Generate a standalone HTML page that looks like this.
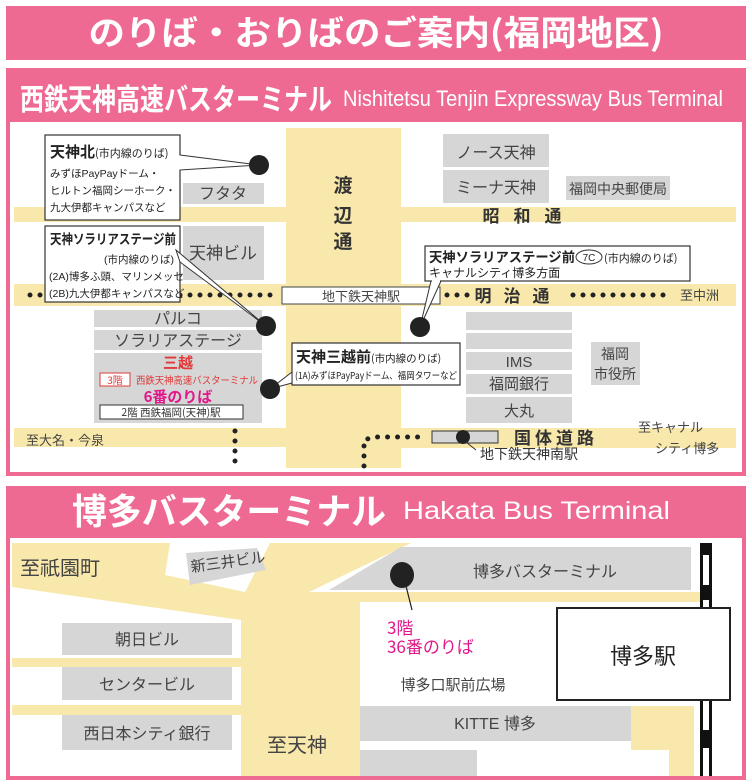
<!DOCTYPE html>
<html><head><meta charset="utf-8"><style>
html,body{margin:0;padding:0;background:#fff;width:752px;height:784px;overflow:hidden}
svg{display:block}
text{font-family:"Liberation Sans","Noto Sans CJK JP",sans-serif}
.j{font-family:"Noto Sans CJK JP","Liberation Sans",sans-serif}
</style></head><body>
<svg width="752" height="784" viewBox="0 0 752 784" xmlns="http://www.w3.org/2000/svg">
<rect x="6" y="6" width="740" height="54" fill="#ef6a92"/>
<text class="j" x="376" y="45" fill="#fff" font-size="34" font-weight="bold" text-anchor="middle" textLength="575" lengthAdjust="spacingAndGlyphs">のりば・おりばのご案内(福岡地区)</text>

<rect x="6" y="68" width="740" height="408" fill="#ef6a92"/>
<rect x="10" y="122" width="732" height="350" fill="#fff"/>
<text class="j" x="20" y="110" fill="#fff" font-size="30" font-weight="bold" textLength="312" lengthAdjust="spacingAndGlyphs">西鉄天神高速バスターミナル</text>
<text x="343" y="106" fill="#fff" font-size="22" textLength="380" lengthAdjust="spacingAndGlyphs">Nishitetsu Tenjin Expressway Bus Terminal</text>

<g fill="#f8e8ab">
<rect x="286" y="128" width="115" height="340"/>
<rect x="14" y="207" width="722" height="15"/>
<rect x="14" y="284" width="722" height="22"/>
<rect x="14" y="428" width="272" height="19"/>
<rect x="401" y="428" width="335" height="20"/>
</g>
<g fill="#d6d6d6">
<rect x="183" y="183" width="81" height="21"/>
<rect x="183" y="226" width="81" height="54"/>
<rect x="94" y="310" width="168" height="17"/>
<rect x="94" y="330" width="168" height="20"/>
<rect x="94" y="353" width="168" height="70"/>
<rect x="443" y="134" width="106" height="33"/>
<rect x="443" y="170" width="106" height="33"/>
<rect x="566" y="176" width="104" height="24"/>
<rect x="466" y="312" width="106" height="18"/>
<rect x="466" y="333" width="106" height="16"/>
<rect x="466" y="352" width="106" height="18"/>
<rect x="466" y="374" width="106" height="20"/>
<rect x="466" y="397" width="106" height="26"/>
<rect x="591" y="342" width="49" height="43"/>
</g>
<g class="j" fill="#444" font-size="16">
<text x="223" y="199" text-anchor="middle">フタタ</text>
<text x="223" y="259" text-anchor="middle" font-size="17">天神ビル</text>
<text x="178" y="324" text-anchor="middle">パルコ</text>
<text x="178" y="346" text-anchor="middle">ソラリアステージ</text>
<text x="496" y="158" text-anchor="middle">ノース天神</text>
<text x="496" y="193" text-anchor="middle">ミーナ天神</text>
<text x="618" y="194" text-anchor="middle" font-size="14">福岡中央郵便局</text>
<text x="519" y="367" text-anchor="middle" font-size="15">IMS</text>
<text x="519" y="389" text-anchor="middle" font-size="15">福岡銀行</text>
<text x="519" y="416" text-anchor="middle" font-size="15">大丸</text>
<text x="615" y="359" text-anchor="middle" font-size="14">福岡</text>
<text x="615" y="379" text-anchor="middle" font-size="14">市役所</text>
</g>
<g class="j" fill="#333" font-weight="bold" font-size="19">
<text x="343" y="192" text-anchor="middle">渡</text>
<text x="343" y="222" text-anchor="middle">辺</text>
<text x="343" y="248" text-anchor="middle">通</text>
<text x="529" y="222" text-anchor="middle" font-size="17" letter-spacing="14">昭和通</text>
<text x="518" y="302" text-anchor="middle" font-size="17" letter-spacing="12">明治通</text>
<text x="556" y="444" text-anchor="middle" font-size="17" letter-spacing="4">国体道路</text>
</g>
<rect x="282" y="287" width="158" height="17" fill="#fff" stroke="#444" stroke-width="1"/>
<text class="j" x="361" y="301" text-anchor="middle" font-size="13" fill="#444">地下鉄天神駅</text>
<rect x="432" y="431" width="66" height="12" fill="#d6d6d6" stroke="#333" stroke-width="1"/>
<circle cx="463" cy="437" r="7" fill="#222"/>
<line x1="466" y1="442" x2="476" y2="450" stroke="#333"/>
<text class="j" x="480" y="459" font-size="14" fill="#333">地下鉄天神南駅</text>
<g class="j" fill="#444" font-size="13">
<text x="680" y="300">至中洲</text>
<text x="638" y="432">至キャナル</text>
<text x="655" y="453">シティ博多</text>
<text x="26" y="445">至大名・今泉</text>
</g>
<g stroke="#222" stroke-width="5" stroke-linecap="round" stroke-dasharray="0 10" fill="none">
<line x1="30" y1="295" x2="276" y2="295"/>
<line x1="447" y1="295" x2="470" y2="295"/>
<line x1="573" y1="295" x2="668" y2="295"/>
<line x1="235" y1="431" x2="235" y2="466"/>
<polyline points="364,466 364,440 374,437 426,437"/>
</g>
<rect x="45" y="135" width="135" height="85" fill="#fff" stroke="#333" stroke-width="1.2"/>
<polygon points="180,155 259,165 180,170" fill="#fff" stroke="#333" stroke-width="1"/>
<line x1="180" y1="155.5" x2="180" y2="169.5" stroke="#fff" stroke-width="2"/>
<text class="j" x="50" y="157" font-size="15" font-weight="bold" fill="#222">天神北<tspan font-size="11" font-weight="normal">(市内線のりば)</tspan></text>
<g class="j" font-size="10.5" fill="#222">
<text x="50" y="177">みずほPayPayドーム・</text>
<text x="50" y="194">ヒルトン福岡シーホーク・</text>
<text x="50" y="211">九大伊都キャンパスなど</text>
</g>
<circle cx="259" cy="165" r="10" fill="#222"/>
<rect x="45" y="226" width="135" height="76" fill="#fff" stroke="#333" stroke-width="1.2"/>
<polygon points="176,250 266,326 180,262" fill="#fff" stroke="#333" stroke-width="1"/>
<text class="j" x="50" y="244" font-size="13.5" font-weight="bold" fill="#222" textLength="126" lengthAdjust="spacingAndGlyphs">天神ソラリアステージ前</text>
<g class="j" font-size="10.5" fill="#222">
<text x="174" y="263" text-anchor="end">(市内線のりば)</text>
<text x="49" y="280">(2A)博多ふ頭、マリンメッセ</text>
<text x="49" y="297">(2B)九大伊都キャンパスなど</text>
</g>
<circle cx="266" cy="326" r="10" fill="#222"/>
<text class="j" x="178" y="368" text-anchor="middle" font-size="15" font-weight="bold" fill="#e03a3a">三越</text>
<rect x="100" y="373" width="30" height="13" fill="#fff" stroke="#e03a3a"/>
<text class="j" x="115" y="384" text-anchor="middle" font-size="10" fill="#e03a3a">3階</text>
<text class="j" x="136" y="384" font-size="10" fill="#e03a3a" textLength="122" lengthAdjust="spacingAndGlyphs">西鉄天神高速バスターミナル</text>
<text class="j" x="178" y="402" text-anchor="middle" font-size="15" font-weight="bold" fill="#e0188a">6番のりば</text>
<rect x="100" y="405" width="143" height="14" fill="#fff" stroke="#333"/>
<text class="j" x="171" y="416" text-anchor="middle" font-size="10.5" fill="#333">2階 西鉄福岡(天神)駅</text>
<rect x="292" y="343" width="168" height="42" fill="#fff" stroke="#333" stroke-width="1.2"/>
<polygon points="292,372 270,389 292,383" fill="#fff" stroke="#333"/>
<text class="j" x="296" y="362" font-size="15" font-weight="bold" fill="#222">天神三越前<tspan font-size="10.5" font-weight="normal">(市内線のりば)</tspan></text>
<text class="j" x="295" y="379" font-size="9.5" fill="#222" textLength="162" lengthAdjust="spacingAndGlyphs">(1A)みずほPayPayドーム、福岡タワーなど</text>
<circle cx="270" cy="389" r="10" fill="#222"/>
<rect x="425" y="246" width="265" height="35" fill="#fff" stroke="#333" stroke-width="1.2"/>
<polygon points="431,281 420,327 441,281" fill="#fff" stroke="#333"/>
<line x1="432" y1="281" x2="440" y2="281" stroke="#fff" stroke-width="2"/>
<text class="j" x="429" y="262" font-size="13.5" font-weight="bold" fill="#222" textLength="146" lengthAdjust="spacingAndGlyphs">天神ソラリアステージ前</text>
<ellipse cx="589" cy="257" rx="13" ry="7" fill="#fff" stroke="#333"/>
<text x="589" y="261" text-anchor="middle" font-size="10" fill="#222">7C</text>
<text class="j" x="604" y="262" font-size="11" fill="#222">(市内線のりば)</text>
<text class="j" x="429" y="277" font-size="12" fill="#222">キャナルシティ博多方面</text>
<circle cx="420" cy="327" r="10" fill="#222"/>

<rect x="6" y="486" width="740" height="294" fill="#ef6a92"/>
<rect x="10" y="538" width="732" height="238" fill="#fff"/>
<text class="j" x="72" y="524" fill="#fff" font-size="36" font-weight="bold" textLength="314" lengthAdjust="spacingAndGlyphs">博多バスターミナル</text>
<text x="403" y="519" fill="#fff" font-size="25" textLength="267" lengthAdjust="spacingAndGlyphs">Hakata Bus Terminal</text>

<rect x="12" y="543" width="688" height="233" fill="#f8e8ab"/>
<g fill="#fff">
<polygon points="12,587 241,620 241,776 12,776"/>
<polygon points="170,543 270,543 245,592 165,575"/>
<polygon points="411,543 700,543 700,592 309,592"/>
<rect x="360" y="602" width="340" height="174"/>
</g>
<g fill="#f8e8ab">
<rect x="12" y="658" width="229" height="9"/>
<rect x="12" y="705" width="229" height="10"/>
<rect x="631" y="706" width="63" height="70"/>
</g>
<rect x="514" y="750" width="155" height="26" fill="#fff"/>
<g fill="#d6d6d6">
<polygon points="186,553 257,548 266,570 190,585"/>
<polygon points="401,547 691,547 691,590 329,590"/>
<rect x="62" y="623" width="170" height="32"/>
<rect x="62" y="667" width="170" height="33"/>
<rect x="62" y="715" width="170" height="35"/>
<rect x="360" y="706" width="271" height="35"/>
<rect x="360" y="750" width="117" height="26"/>
</g>
<rect x="700" y="543" width="12" height="233" fill="#111"/>
<g fill="#fff">
<rect x="703" y="555" width="6" height="30"/>
<rect x="703" y="600" width="6" height="10"/>
<rect x="703" y="700" width="6" height="30"/>
<rect x="703" y="748" width="6" height="28"/>
</g>
<rect x="557" y="608" width="173" height="92" fill="#fff" stroke="#222" stroke-width="2"/>
<text class="j" x="643" y="664" text-anchor="middle" font-size="22" fill="#222">博多駅</text>
<g class="j" fill="#444">
<text x="20" y="575" font-size="20">至祇園町</text>
<text x="228" y="567" font-size="15" text-anchor="middle" transform="rotate(-8 228 562)">新三井ビル</text>
<text x="545" y="577" font-size="16" text-anchor="middle">博多バスターミナル</text>
<text x="147" y="645" font-size="16" text-anchor="middle">朝日ビル</text>
<text x="147" y="690" font-size="16" text-anchor="middle">センタービル</text>
<text x="147" y="739" font-size="16" text-anchor="middle">西日本シティ銀行</text>
<text x="267" y="752" font-size="20">至天神</text>
<text x="453" y="690" font-size="15" text-anchor="middle">博多口駅前広場</text>
<text x="495" y="729" font-size="16" text-anchor="middle">KITTE 博多</text>
</g>
<ellipse cx="402" cy="575" rx="12" ry="13" fill="#222"/>
<line x1="406" y1="586" x2="412" y2="610" stroke="#222" stroke-width="1.2"/>
<text class="j" x="387" y="634" font-size="17" fill="#e0188a">3階</text>
<text class="j" x="387" y="653" font-size="17" fill="#e0188a">36番のりば</text>
</svg>
</body></html>
